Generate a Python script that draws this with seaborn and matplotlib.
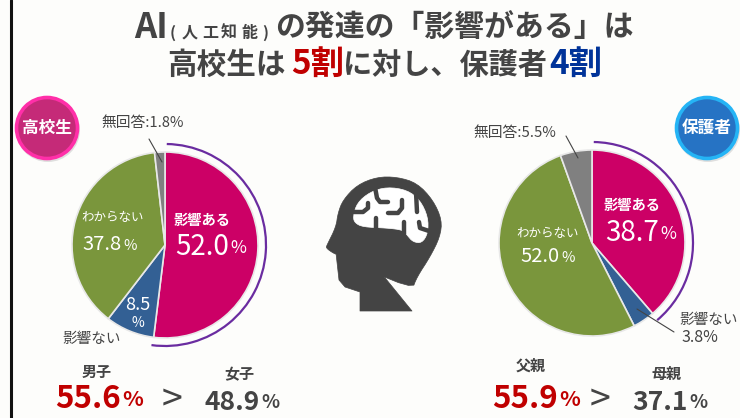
import numpy as np
import matplotlib.pyplot as plt
from matplotlib.patches import Arc, Circle, Polygon
import seaborn as sns

# answers, clockwise from 12 o'clock
answers = ["影響ある", "影響ない", "わからない", "無回答"]
students = [52.0, 8.5, 37.8, 1.8]
parents = [38.7, 3.8, 52.0, 5.5]
colors = ["#cc0066", "#336094", "#7a963c", "#808080"]

# comparison figures under the pies
student_groups = ["男子", "女子"]
student_shares = [55.6, 48.9]
parent_groups = ["父親", "母親"]
parent_shares = [55.9, 37.1]

INK = "#444444"
RED = "#c00000"
BLUE = "#003399"
PURPLE = "#6a2ca0"
JP = ["Noto Sans CJK JP", "DejaVu Sans"]


def put(ax, x, y, s, size, color=INK, weight="normal", ha="center"):
    return ax.text(x, y, s, fontsize=size, color=color, fontweight=weight,
                   ha=ha, va="center", family=JP)


def pct(ax, x, y, value, size, psize, color="white", weight="normal"):
    # number ends at x, the smaller % sign starts just after it
    put(ax, x, y, f"{value:.1f}", size, color, weight, ha="right")
    put(ax, x + 1, y + 1, "%", psize, color, weight, ha="left")


def smooth(points, rounds=2):
    pts = np.array(points, dtype=float)
    for _ in range(rounds):
        nxt = np.roll(pts, -1, axis=0)
        pts = np.column_stack([0.75 * pts + 0.25 * nxt, 0.25 * pts + 0.75 * nxt]).reshape(-1, 2)
    return pts


def draw_pie(ax, values, cx, cy):
    # y axis runs downwards, so counterclock=True ends up clockwise on screen
    ax.pie(values, colors=colors, startangle=-90, counterclock=True,
           center=(cx, cy), radius=93, frame=True,
           wedgeprops={"edgecolor": "#e8e8e8", "linewidth": 1.2})
    # purple ring around the first slice
    ax.add_patch(Arc((cx, cy), 202, 202, theta1=-89, theta2=-90 + values[0] * 3.6 + 0.5,
                     color=PURPLE, lw=1.6))


def draw_badge(ax, x, y, label, fill, rim):
    ax.add_patch(Circle((x + 1, y + 2), 32, color="#cccccc", alpha=0.6, lw=0))
    ax.add_patch(Circle((x, y), 30.5, facecolor=fill, edgecolor=rim, lw=2.6))
    put(ax, x, y, label, 12, "white", "bold")


def draw_head(ax):
    top = [(338, 255), (333, 253), (326, 248), (327, 245), (336, 227), (338, 213),
           (343, 200), (357, 185), (377, 177), (397, 177), (417, 183), (433, 200),
           (442, 220), (440, 237), (430, 257), (417, 277), (412, 290)]
    low = [(412, 311), (360, 311), (360, 292), (345, 287), (339, 280)]
    head = np.vstack([smooth(top, 2)[:-3], low])
    ax.add_patch(Polygon(head, closed=True, facecolor=INK, edgecolor=INK, lw=0.5, joinstyle="round"))
    brain = [(353, 217), (357, 203), (370, 192), (387, 187), (407, 190), (420, 200),
             (428, 217), (428, 233), (422, 243), (413, 242), (407, 235), (403, 230),
             (387, 228), (363, 227), (355, 223)]
    ax.add_patch(Polygon(smooth(brain, 2), closed=True, facecolor="white", edgecolor="white", lw=0.5))
    folds = [[(375, 187), (377, 198), (380, 202), (388, 202)],
             [(354, 212), (363, 212), (368, 208), (368, 203)],
             [(388, 213), (398, 213), (402, 208), (402, 200)],
             [(376, 218), (376, 229)],
             [(416, 192), (417, 212)],
             [(404, 222), (404, 234)],
             [(419, 222), (420, 228), (429, 231)]]
    for f in folds:
        x, y = zip(*f)
        ax.plot(x, y, color=INK, lw=3.2, solid_capstyle="round", solid_joinstyle="round")


sns.set_theme(style="white")
plt.rcParams["font.family"] = JP

fig = plt.figure(figsize=(7.4, 4.18), dpi=100, facecolor="#fdfdfb")
ax = fig.add_axes([0, 0, 1, 1])
ax.set_facecolor("#fdfdfb")

draw_pie(ax, students, 165, 245)
draw_pie(ax, parents, 592, 243)
ax.set_xlim(0, 740)
ax.set_ylim(418, 0)
ax.set_aspect("auto")
ax.axis("off")

# left border of the slide
ax.plot([10.5, 10.5], [0, 418], color="#111111", lw=2.2)

# title, built from pieces so the coloured words line up
put(ax, 134, 27, "AI", 25, INK, "bold", ha="left")
# the bracketed part is letter-spaced in the original
for x, ch in zip([173, 190, 210, 229, 249, 265], "(人工知能)"):
    put(ax, x, 33, ch, 11.5, INK, "bold")
put(ax, 275, 28, "の発達の「影響がある」は", 21.5, INK, "bold", ha="left")
put(ax, 167, 65, "高校生は", 21.3, INK, "bold", ha="left")
put(ax, 291, 64, "5割", 24, RED, "bold", ha="left")
put(ax, 343, 65, "に対し、保護者", 21, INK, "bold", ha="left")
put(ax, 549, 64, "4割", 24, BLUE, "bold", ha="left")

draw_badge(ax, 47, 128, "高校生", "#c52a78", "#ff2fa8")
draw_badge(ax, 707, 128, "保護者", "#2673c4", "#25b4f5")
draw_head(ax)

# left pie labels
put(ax, 143, 123, f"{answers[3]}:{students[3]}%", 10.6)
ax.plot([149, 162], [139, 162], color=INK, lw=0.8)
put(ax, 202, 221, answers[0], 10.3, "white", "bold")
pct(ax, 229, 247, students[0], 20, 12.5)
put(ax, 113, 217, answers[2], 9, "white")
pct(ax, 122, 245, students[2], 14.5, 10.5)
put(ax, 138, 305, f"{students[1]}", 13, "white")
put(ax, 138, 323, "%", 10, "white")
put(ax, 92, 339, answers[1], 10.5)

# right pie labels
put(ax, 515, 133, f"{answers[3]}:{parents[3]}%", 10.6)
ax.plot([566, 578], [136, 158], color=INK, lw=0.8)
put(ax, 632, 206, answers[0], 10.3, "white", "bold")
pct(ax, 659, 233, parents[0], 20, 12.5)
put(ax, 548, 234, answers[2], 9, "white")
pct(ax, 560, 257, parents[2], 14.5, 10.5)
ax.plot([637, 674], [309, 332], color=INK, lw=0.8)
put(ax, 709, 320, answers[1], 10.5)
put(ax, 682, 338, f"{parents[1]}%", 11.5, ha="left")

# gender / parent comparison
put(ax, 97, 372, student_groups[0], 10.8, INK, "bold")
put(ax, 239, 374, student_groups[1], 10.8, INK, "bold")
pct(ax, 121, 399, student_shares[0], 22.5, 15.5, RED, "bold")
put(ax, 172, 400, ">", 27, INK)
pct(ax, 260, 402, student_shares[1], 19, 13.5, INK, "bold")
put(ax, 531, 366, parent_groups[0], 10.8, INK, "bold")
put(ax, 667, 374, parent_groups[1], 10.8, INK, "bold")
pct(ax, 558, 399, parent_shares[0], 22.5, 15.5, RED, "bold")
put(ax, 600, 400, ">", 27, INK)
pct(ax, 688, 402, parent_shares[1], 19, 13.5, INK, "bold")

fig.savefig("out.png", dpi=100, facecolor=fig.get_facecolor())
